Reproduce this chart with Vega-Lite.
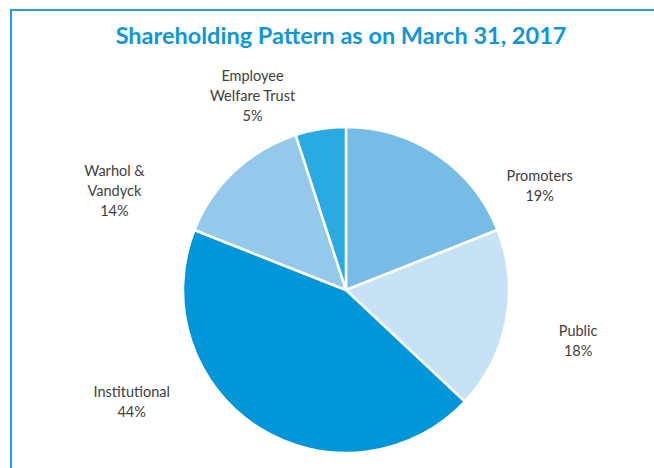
{
  "$schema": "https://vega.github.io/schema/vega-lite/v6.json",
  "width": 670,
  "height": 560,
  "autosize": {"type": "none"},
  "padding": {"left": 11, "top": 10, "right": 0, "bottom": 0},
  "background": "white",
  "view": {"stroke": "#1ea0e6", "strokeWidth": 2},
  "config": {"view": {"stroke": "#1ea0e6", "strokeWidth": 2}},
  "title": {
    "text": "Shareholding Pattern as on March 31, 2017",
    "font": "Lato",
    "fontSize": 23.5,
    "fontWeight": "bold",
    "color": "#0f97d8",
    "anchor": "middle",
    "baseline": "alphabetic",
    "offset": -57,
    "dx": -5
  },
  "data": {
    "values": [
      {"name": "Promoters", "label": "Promoters\n19%", "value": 19, "rank": 1},
      {"name": "Public", "label": "Public\n18%", "value": 18, "rank": 2},
      {"name": "Institutional", "label": "Institutional\n44%", "value": 44, "rank": 3},
      {"name": "Warhol & Vandyck", "label": "Warhol &\nVandyck\n14%", "value": 14, "rank": 4},
      {"name": "Employee Welfare Trust", "label": "Employee\nWelfare Trust\n5%", "value": 5, "rank": 5}
    ]
  },
  "encoding": {
    "theta": {"field": "value", "type": "quantitative", "stack": true},
    "order": {"field": "rank", "type": "quantitative"}
  },
  "layer": [
    {
      "mark": {"type": "arc", "outerRadius": 163, "stroke": "white", "strokeWidth": 2.5},
      "encoding": {
        "color": {
          "field": "name",
          "type": "nominal",
          "scale": {
            "domain": ["Promoters", "Public", "Institutional", "Warhol & Vandyck", "Employee Welfare Trust"],
            "range": ["#77bbe7", "#c7e2f5", "#0096d9", "#95c9ec", "#29abe2"]
          },
          "legend": null
        }
      }
    },
    {
      "mark": {
        "type": "text",
        "radius": 163,
        "font": "Lato",
        "fontSize": 14.5,
        "fill": "#404040",
        "lineBreak": "\n",
        "lineHeight": 20,
        "align": "center",
        "baseline": "middle",
        "dx": {"expr": "datum.name === 'Promoters' ? 102 : datum.name === 'Public' ? 72 : datum.name === 'Institutional' ? -127 : datum.name === 'Warhol & Vandyck' ? -120 : -68"},
        "dy": {"expr": "datum.name === 'Promoters' ? 22 : datum.name === 'Public' ? 11 : datum.name === 'Institutional' ? -35 : datum.name === 'Warhol & Vandyck' ? 1 : -52"}
      },
      "encoding": {"text": {"field": "label", "type": "nominal"}}
    }
  ]
}
